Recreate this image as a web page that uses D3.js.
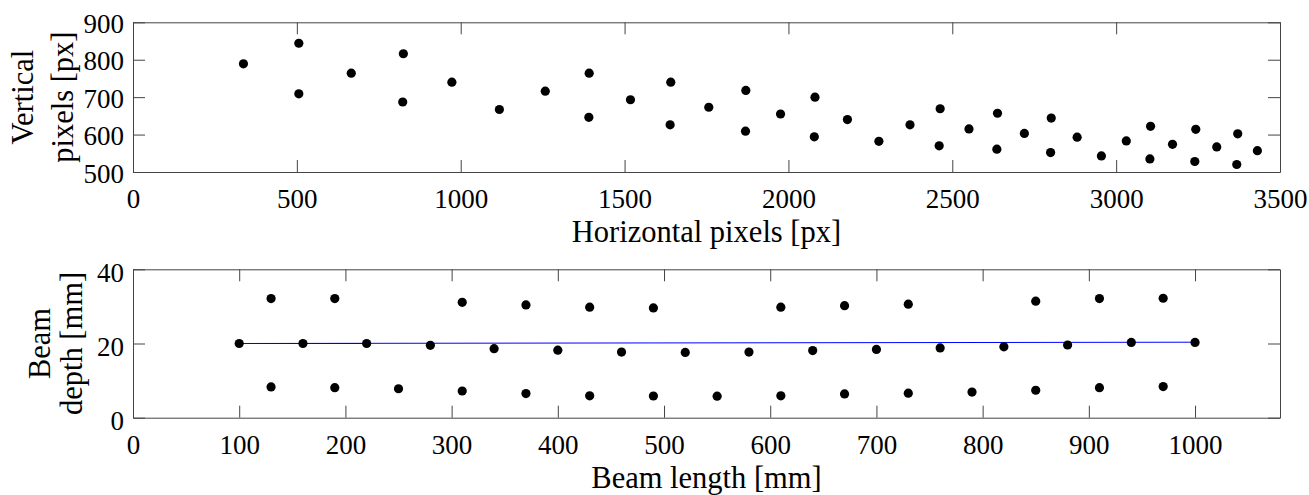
<!DOCTYPE html>
<html lang="en">
    <head>
        <meta charset="utf-8">
        <script type="text/javascript" src="https://cdn.jsdelivr.net/npm/d3@7"></script>
        <title>Pixels and beam</title>
        <style type="text/css">
            body { margin: 0; background: #fff; }
        </style>
    </head>
    <body>
        <script type="text/javascript">
            var w = 1309;
            var h = 495;
            var serif = "'Liberation Serif', 'Times New Roman', serif";

            // top panel: detected points in the image
            var pixX = [337, 506, 506, 666, 825, 823, 973, 1118, 1258, 1392, 1391, 1518, 1641, 1639, 1757,
                        1870, 1869, 1976, 2081, 2079, 2180, 2276, 2371, 2463, 2460, 2551, 2638, 2636,
                        2720, 2802, 2800, 2881, 2955, 3031, 3105, 3103, 3172, 3243, 3240, 3307, 3371, 3368, 3431];
            var pixY = [789, 844, 709, 764, 816, 687, 740, 667, 716, 764, 646, 693, 740, 626, 673,
                        718, 609, 655, 700, 594, 640, 582, 626, 669, 570, 615, 657, 561,
                        603, 644, 552, 593, 543, 583, 622, 535, 574, 614, 528, 567, 602, 520, 557];
            var pixXTicks = [0, 500, 1000, 1500, 2000, 2500, 3000, 3500];
            var pixYTicks = [500, 600, 700, 800, 900];

            // bottom panel: beam points (upper row, middle row, lower row)
            var beamX = [130, 190, 310, 370, 430, 490, 610, 670, 730, 850, 910, 970,
                         100, 160, 220, 280, 340, 400, 460, 520, 580, 640, 700, 760, 820, 880, 940, 1000,
                         130, 190, 250, 310, 370, 430, 490, 550, 610, 670, 730, 790, 850, 910, 970];
            var beamY = [32.1, 32.1, 31.1, 30.4, 29.8, 29.6, 29.8, 30.2, 30.6, 31.4, 32.1, 32.2,
                         20.0, 20.0, 20.0, 19.5, 18.6, 18.2, 17.7, 17.6, 17.7, 18.1, 18.4, 18.8, 19.1, 19.6, 20.3, 20.3,
                         8.3, 8.1, 7.8, 7.2, 6.5, 5.9, 5.85, 5.8, 5.9, 6.4, 6.6, 6.9, 7.4, 8.1, 8.4];
            var axisLineX = [100, 1000];
            var axisLineY = [20.0, 20.35];
            var beamXTicks = [0, 100, 200, 300, 400, 500, 600, 700, 800, 900, 1000];
            var beamYTicks = [0, 20, 40];

            var svg = d3.select("body")
                        .append("svg")
                        .attr("width", w)
                        .attr("height", h)
                        .style("display", "block");

            svg.append("rect").attr("width", w).attr("height", h).attr("fill", "#fff");

            var left = 133, right = 1280;
            var fmt = d3.format("d");

            function styleAxis(sel) {
                sel.attr("font-family", null).attr("font-size", null);
                sel.selectAll("path, line").attr("stroke", "#444").attr("stroke-width", 1);
                sel.selectAll("text")
                    .style("font-family", serif)
                    .style("font-size", "27px")
                    .attr("fill", "#000");
            }

            function panel(opt) {
                var x = d3.scaleLinear().domain(opt.xDomain).range([left, right]);
                var y = d3.scaleLinear().domain(opt.yDomain).range([opt.bottom, opt.top]);
                var g = svg.append("g");

                // frame with inward ticks on all four sides
                var xb = g.append("g")
                    .attr("transform", "translate(0," + opt.bottom + ")")
                    .call(d3.axisBottom(x).tickValues(opt.xTicks).tickFormat(fmt)
                        .tickSizeInner(-12).tickSizeOuter(0).tickPadding(17));
                styleAxis(xb);
                xb.selectAll("text").attr("dy", "0.71em");

                var xt = g.append("g")
                    .attr("transform", "translate(0," + opt.top + ")")
                    .call(d3.axisTop(x).tickValues(opt.xTicks).tickSizeInner(-12).tickSizeOuter(0).tickFormat(""));
                styleAxis(xt);

                var yl = g.append("g")
                    .attr("transform", "translate(" + left + ",0)")
                    .call(d3.axisLeft(y).tickValues(opt.yTicks).tickFormat(fmt)
                        .tickSizeInner(-12).tickSizeOuter(0).tickPadding(9));
                styleAxis(yl);
                yl.selectAll("text").attr("dy", opt.ydy);

                var yr = g.append("g")
                    .attr("transform", "translate(" + right + ",0)")
                    .call(d3.axisRight(y).tickValues(opt.yTicks).tickSizeInner(-12).tickSizeOuter(0).tickFormat(""));
                styleAxis(yr);

                // x label
                g.append("text")
                    .attr("x", (left + right) / 2)
                    .attr("y", opt.xLabelY)
                    .attr("text-anchor", "middle")
                    .style("font-family", serif)
                    .style("font-size", "30.5px")
                    .text(opt.xLabel);

                // two line y label
                var lab = g.append("text")
                    .attr("transform", "translate(0," + ((opt.top + opt.bottom) / 2) + ") rotate(-90)")
                    .attr("text-anchor", "middle")
                    .style("font-family", serif)
                    .style("font-size", "30.5px");
                opt.yLabel.forEach(function(s, i) {
                    lab.append("tspan").attr("x", 0).attr("y", opt.yLabelX[i]).text(s);
                });

                return {x: x, y: y, g: g};
            }

            var top1 = panel({
                xDomain: [0, 3500], yDomain: [500, 900],
                top: 22.3, bottom: 172,
                xTicks: pixXTicks, yTicks: pixYTicks, ydy: "0.38em",
                xLabel: "Horizontal pixels [px]", xLabelY: 242,
                yLabel: ["Vertical", "pixels [px]"], yLabelX: [33, 73]
            });

            top1.g.selectAll("circle")
                .data(pixX)
                .enter()
                .append("circle")
                .attr("cx", function(d) { return top1.x(d); })
                .attr("cy", function(d, i) { return top1.y(pixY[i]); })
                .attr("r", 4.6)
                .attr("fill", "#000");

            var bot = panel({
                xDomain: [0, 1080], yDomain: [0, 40],
                top: 269.3, bottom: 417.7,
                xTicks: beamXTicks, yTicks: beamYTicks, ydy: "0.45em",
                xLabel: "Beam length [mm]", xLabelY: 488,
                yLabel: ["Beam", "depth [mm]"], yLabelX: [50, 82]
            });

            // neutral axis line
            bot.g.append("line")
                .attr("x1", bot.x(axisLineX[0])).attr("y1", bot.y(axisLineY[0]))
                .attr("x2", bot.x(220)).attr("y2", bot.y(axisLineY[0]))
                .attr("stroke", "#000").attr("stroke-width", 1.2);
            bot.g.append("line")
                .attr("x1", bot.x(axisLineX[0])).attr("y1", bot.y(axisLineY[0]))
                .attr("x2", bot.x(axisLineX[1])).attr("y2", bot.y(axisLineY[1]))
                .attr("stroke", "#0000ff").attr("stroke-width", 1);

            bot.g.selectAll("circle")
                .data(beamX)
                .enter()
                .append("circle")
                .attr("cx", function(d) { return bot.x(d); })
                .attr("cy", function(d, i) { return bot.y(beamY[i]); })
                .attr("r", 4.6)
                .attr("fill", "#000");
        </script>
    </body>
</html>
